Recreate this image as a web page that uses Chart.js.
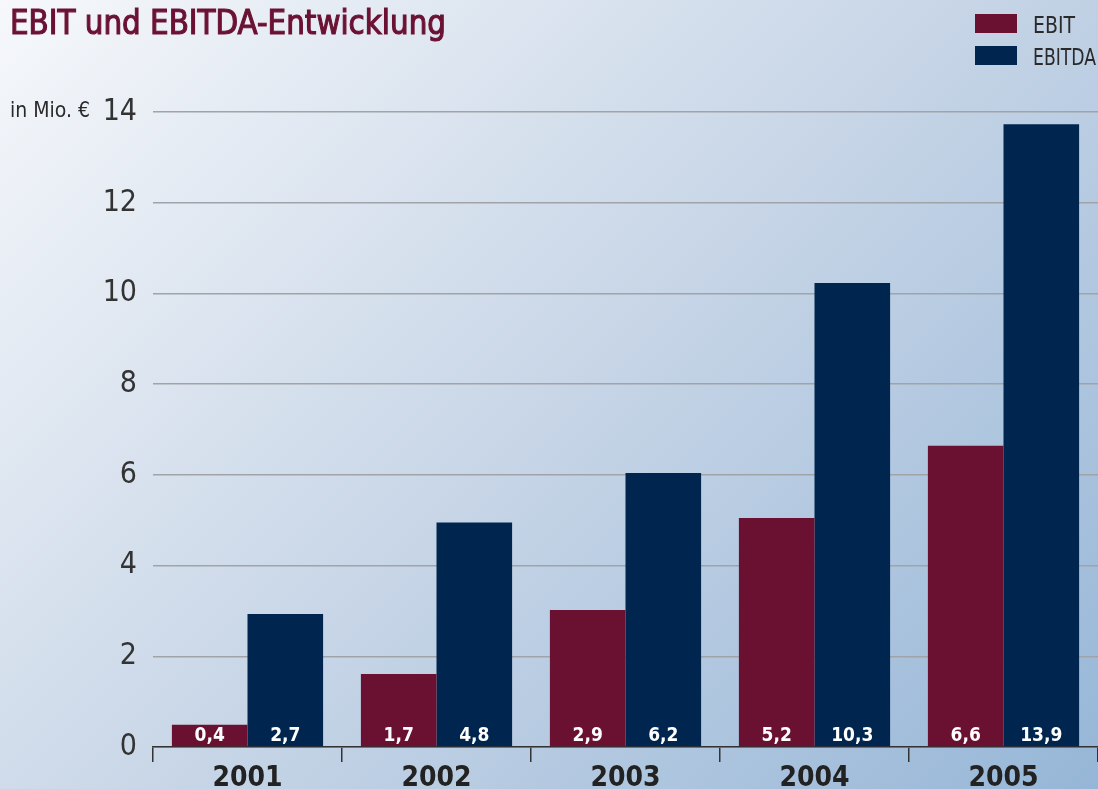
<!DOCTYPE html>
<html>
<head>
<meta charset="utf-8">
<script src="https://cdn.jsdelivr.net/npm/chart.js@4.4.1/dist/chart.umd.min.js"></script>
<style>
  html, body { margin: 0; padding: 0; }
  body {
    width: 1098px; height: 789px; overflow: hidden;
    background: linear-gradient(135deg, #f6f8fb 0%, #c8d6e7 50%, #96b6d7 100%);
  }
  #c { position: absolute; left: 0; top: 0; }
</style>
</head>
<body>
<canvas id="c" width="1098" height="789"></canvas>
<script>
const categories = ['2001', '2002', '2003', '2004', '2005'];
const ebitValues = [0.49, 1.61, 3.02, 5.05, 6.64];
const ebitdaValues = [2.93, 4.95, 6.04, 10.23, 13.73];
const ebitLabels = ['0,4', '1,7', '2,9', '5,2', '6,6'];
const ebitdaLabels = ['2,7', '4,8', '6,2', '10,3', '13,9'];
const seriesNames = ['EBIT', 'EBITDA'];
const yMin = 0, yMax = 14, yStep = 2;
const titleText = 'EBIT und EBITDA-Entwicklung';
const unitText = 'in Mio. €';

const NARROW = "'Liberation Sans Narrow', 'DejaVu Sans Condensed', 'Roboto', sans-serif";
const COL_EBIT = '#6a1131';
const COL_EBITDA = '#00264f';

const decorPlugin = {
  id: 'decor',
  afterDraw(chart) {
    const ctx = chart.ctx;
    ctx.save();
    // Title (medium weight: regular face with a thin stroke)
    ctx.fillStyle = '#6b1234';
    ctx.strokeStyle = '#6b1234';
    ctx.lineWidth = 1.1;
    ctx.font = "33px " + NARROW;
    ctx.textAlign = 'left';
    ctx.textBaseline = 'alphabetic';
    ctx.fillText(titleText, 10, 34, 436);
    ctx.strokeText(titleText, 10, 34, 436);
    // Unit label
    ctx.fillStyle = '#2a2a2a';
    ctx.font = "300 21px " + NARROW;
    ctx.fillText(unitText, 10, 117, 80);
    // Legend
    const ds = chart.data.datasets;
    ds.forEach((d, i) => {
      const y = 14 + i * 32;
      ctx.fillStyle = d.backgroundColor;
      ctx.fillRect(975, y, 42, 19);
      ctx.fillStyle = '#2a2a2a';
      ctx.font = "300 23px " + NARROW;
      ctx.fillText(d.label, 1033, y + 19, d.label.length > 4 ? 63 : 42);
    });
    // Value labels inside bars
    const labelSets = [ebitLabels, ebitdaLabels];
    ctx.fillStyle = '#ffffff';
    ctx.font = "bold 19px " + NARROW;
    ctx.textAlign = 'center';
    ds.forEach((d, i) => {
      const meta = chart.getDatasetMeta(i);
      meta.data.forEach((el, j) => {
        ctx.fillText(labelSets[i][j], el.x, chart.chartArea.bottom - 6);
      });
    });
    ctx.restore();
  }
};

new Chart(document.getElementById('c'), {
  type: 'bar',
  data: {
    labels: categories,
    datasets: [
      { label: seriesNames[0], data: ebitValues, backgroundColor: COL_EBIT, borderWidth: 0 },
      { label: seriesNames[1], data: ebitdaValues, backgroundColor: COL_EBITDA, borderWidth: 0 }
    ]
  },
  options: {
    responsive: false,
    animation: false,
    layout: { padding: { top: 112, left: 0, right: 0, bottom: 0 } },
    datasets: { bar: { categoryPercentage: 0.8, barPercentage: 1.0 } },
    plugins: { legend: { display: false }, title: { display: false }, tooltip: { enabled: false } },
    scales: {
      x: {
        grid: { drawOnChartArea: false, drawTicks: true, tickLength: 15, color: '#333333', lineWidth: 1.5 },
        border: { display: true, color: '#333333', width: 1.5 },
        ticks: { color: '#222222', padding: 0, font: { family: NARROW, size: 28, weight: 'bold' } },
        afterFit(s) { s.height = 42; }
      },
      y: {
        min: yMin, max: yMax,
        ticks: { stepSize: yStep, padding: 16, color: '#333333', font: { family: NARROW, size: 30, weight: '300' } },
        grid: { color: '#a0a4a8', lineWidth: 1.5, drawTicks: false },
        border: { display: false },
        afterFit(s) { s.width = 153; }
      }
    }
  },
  plugins: [decorPlugin]
});
</script>
</body>
</html>
